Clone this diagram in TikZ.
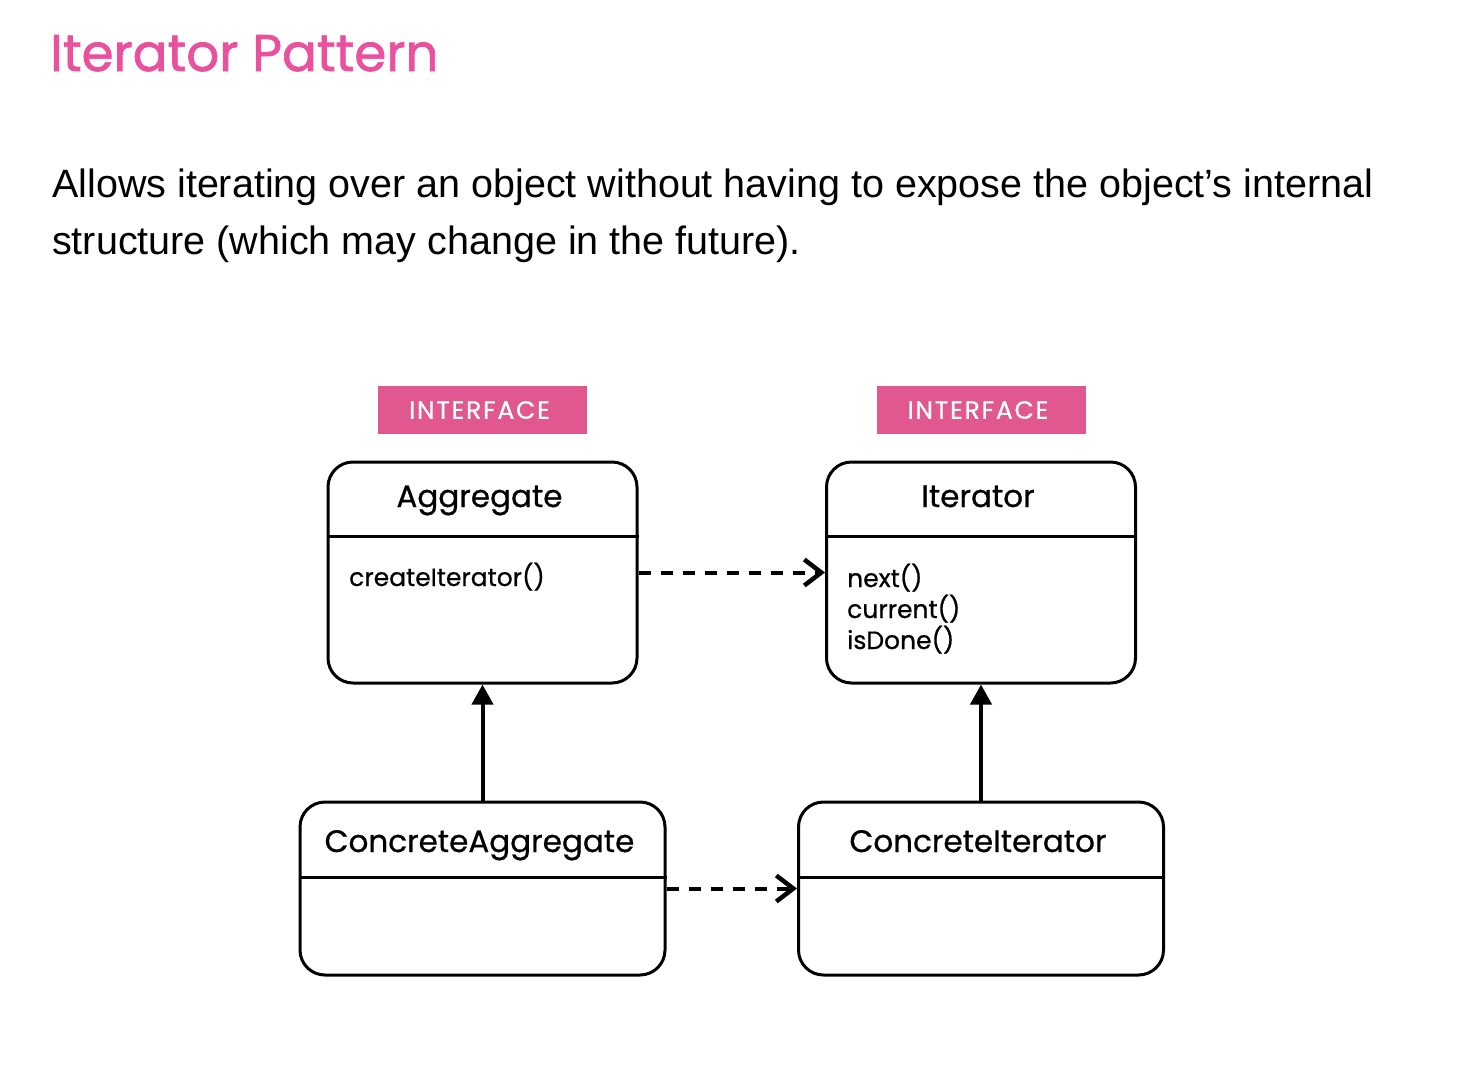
\documentclass[tikz,border=0pt]{standalone}
\usepackage{fontspec}
\setmainfont{Liberation Sans}
\newfontfamily\poppins{Poppins}
\newfontfamily\poppinsmed{Poppins}[FakeBold=0.7]
\newfontfamily\poppinshead{Poppins}[FakeBold=1.4]
\usetikzlibrary{positioning, calc, arrows.meta}
\definecolor{titlepink}{HTML}{E9519E}
\definecolor{tagpink}{HTML}{E0588F}

\begin{document}
\begin{tikzpicture}[
    x=1pt, y=-1pt,
    classbox/.style  = {rectangle, draw=black, line width=3pt, rounded corners=25pt,
                        minimum width=309pt, minimum height=221pt, inner sep=0pt},
    concbox/.style   = {classbox, minimum width=365pt, minimum height=173pt},
    tagbox/.style    = {rectangle, fill=tagpink, minimum width=209pt, minimum height=48pt,
                        inner sep=0pt, text=white,
                        font=\poppinsmed\fontsize{25}{28}\selectfont\addfontfeature{LetterSpace=7}},
    classname/.style = {anchor=base, inner sep=0pt, font=\poppinsmed\fontsize{31}{36}\selectfont},
    methods/.style   = {anchor=base west, inner sep=0pt, align=left,
                        font=\poppinsmed\fontsize{25}{31}\selectfont},
    divider/.style   = {line width=2.5pt},
    realize/.style   = {line width=4pt, dash pattern=on 12pt off 10pt,
                        -{Straight Barb[length=17pt, width=26pt, line width=4.5pt]}},
    inherit/.style   = {line width=4pt, -{Triangle[length=20pt, width=21pt]}},
    titlelbl/.style  = {anchor=base west, inner sep=0pt, text=titlepink,
                        font=\poppinshead\fontsize{51.5}{60}\selectfont},
    desclbl/.style   = {anchor=base west, inner sep=0pt, align=left,
                        font=\fontsize{39.5}{57}\selectfont},
]
\useasboundingbox (0,0) rectangle (1480,1088);

%% ============================================================
%% COORDINATES
%% ============================================================
\def\xL{482.5}
\def\xR{981}
\def\yTop{572.5}
\def\yBot{888.5}
\def\yTag{410}

%% ============================================================
%% TITLE AND DESCRIPTION
%% ============================================================
\node[titlelbl] (title) at (50, 71) {Iterator Pattern};
% base anchor of a two-line node sits on the last line
\node[desclbl]  (desc)  at (52, 254)
    {Allows iterating over an object without having to expose the object’s internal\\
     structure (which may change in the future).};

%% ============================================================
%% INTERFACE BOXES
%% ============================================================
\node[tagbox]   (tagA) at (\xL, \yTag) {INTERFACE\kern6pt};
\node[tagbox]   (tagI) at (\xR, \yTag) {INTERFACE\kern6pt};

\node[classbox] (agg)  at (\xL, \yTop) {};
\node[classbox] (itr)  at (\xR, \yTop) {};

\draw[divider] ($(agg.north west)+(0,76)$) -- ($(agg.north east)+(0,76)$);
\draw[divider] ($(itr.north west)+(0,76)$) -- ($(itr.north east)+(0,76)$);

\node[classname] (aggName) at (\xL-3, 507) {Aggregate};
\node[classname] (itrName) at (\xR-3, 507) {Iterator};

\node[methods] (aggOps) at (349, 586) {createIterator()};
\node[methods] (itrOps) at (847, 649) {next()\\current()\\isDone()};

%% ============================================================
%% CONCRETE CLASSES
%% ============================================================
\node[concbox] (cagg) at (\xL, \yBot) {};
\node[concbox] (citr) at (\xR, \yBot) {};

\draw[divider] ($(cagg.north west)+(0,77)$) -- ($(cagg.north east)+(0,77)$);
\draw[divider] ($(citr.north west)+(0,77)$) -- ($(citr.north east)+(0,77)$);

\node[classname] (caggName) at (\xL-3, 852) {ConcreteAggregate};
\node[classname] (citrName) at (\xR-3, 852) {ConcreteIterator};

%% ============================================================
%% CONNECTIONS
%% ============================================================
\draw[realize] (agg.east)  -- (itr.west);
\draw[realize] (cagg.east) -- (citr.west);
\draw[inherit] (cagg.north) -- (agg.south);
\draw[inherit] (citr.north) -- (itr.south);

\end{tikzpicture}
\end{document}
